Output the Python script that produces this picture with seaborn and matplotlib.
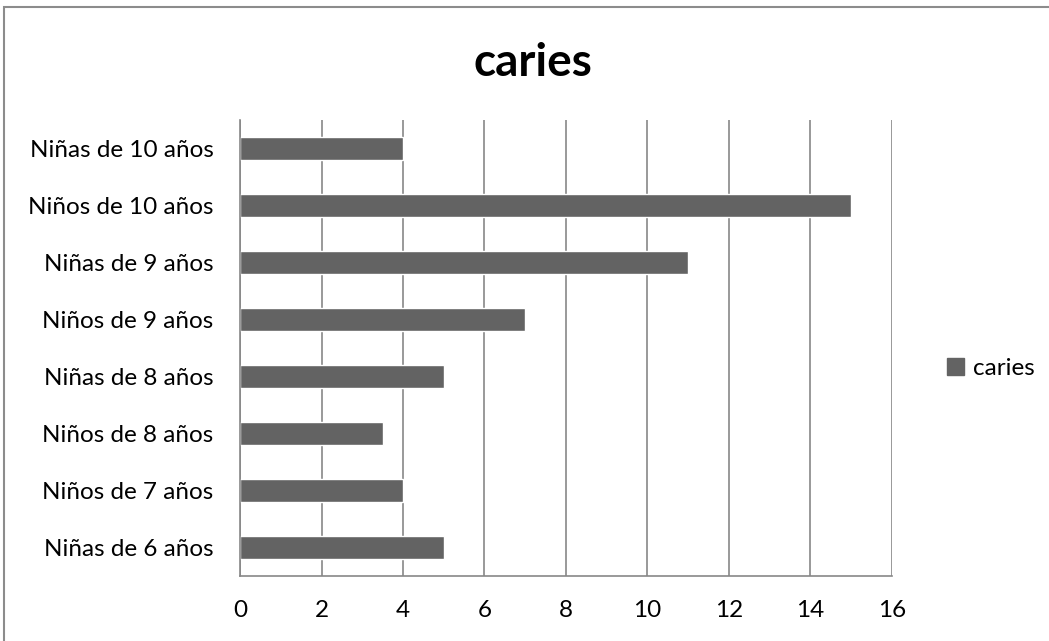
import matplotlib
matplotlib.use("Agg")
import matplotlib.pyplot as plt
import matplotlib.patches as mpatches
import seaborn as sns
import pandas as pd

# Groups listed top to bottom as drawn on the y axis
groups = ["Niñas de 10 años", "Niños de 10 años", "Niñas de 9 años", "Niños de 9 años",
          "Niñas de 8 años", "Niños de 8 años", "Niños de 7 años", "Niñas de 6 años"]
caries = [4, 15, 11, 7, 5, 3.5, 4, 5]
x_ticks = [0, 2, 4, 6, 8, 10, 12, 14, 16]
series_name = "caries"

df = pd.DataFrame({"grupo": groups, "valor": caries, "serie": series_name})

sns.set_style("white")
plt.rcParams["font.family"] = ["Lato", "DejaVu Sans"]
plt.rcParams["text.color"] = "black"

bar_color = "#636363"
grid_color = "#878787"
label_size = 17.5

fig = plt.figure(figsize=(10.49, 6.41), dpi=100)
ax = fig.add_axes([0.2288, 0.1014, 0.6215, 0.7114])

sns.barplot(data=df, x="valor", y="grupo", hue="serie", palette=[bar_color],
            orient="h", width=0.39, ax=ax, legend=False, saturation=1)

ax.set_xlim(0, 16)
ax.set_xticks(x_ticks)
ax.set_xticklabels([str(t) for t in x_ticks])
ax.set_ylim(len(groups) - 0.5, -0.5)
ax.set_xlabel("")
ax.set_ylabel("")

ax.xaxis.grid(True, color=grid_color, linewidth=1.2)
ax.set_axisbelow(True)
for side in ("top", "right"):
    ax.spines[side].set_visible(False)
for side in ("left", "bottom"):
    ax.spines[side].set_color(grid_color)
    ax.spines[side].set_linewidth(1.2)

ax.tick_params(axis="x", direction="out", length=8, width=1.2, color=grid_color,
               pad=9, labelsize=label_size, labelcolor="black")
# Category labels without ticks; boundary ticks drawn as minor ticks
ax.tick_params(axis="y", which="major", length=0, pad=19, labelsize=label_size,
               labelcolor="black")
ax.set_yticks([i + 0.5 for i in range(-1, len(groups))], minor=True)
ax.tick_params(axis="y", which="minor", direction="out", length=6, width=1.2,
               color=grid_color)

fig.suptitle("caries", fontsize=33, fontweight="bold", x=0.508, y=0.935, color="black")

handle = mpatches.Patch(color=bar_color, label=series_name)
fig.legend(handles=[handle], loc="center left", bbox_to_anchor=(0.882, 0.425),
           frameon=False, fontsize=label_size, handlelength=0.7, handleheight=0.7,
           handletextpad=0.35)

# Outer chart frame
frame = mpatches.Rectangle((0.004, -0.01), 1.2, 0.999, transform=fig.transFigure,
                           fill=False, edgecolor="#8c8c8c", linewidth=1.5)
fig.patches.append(frame)

fig.savefig("out.png", dpi=100)
